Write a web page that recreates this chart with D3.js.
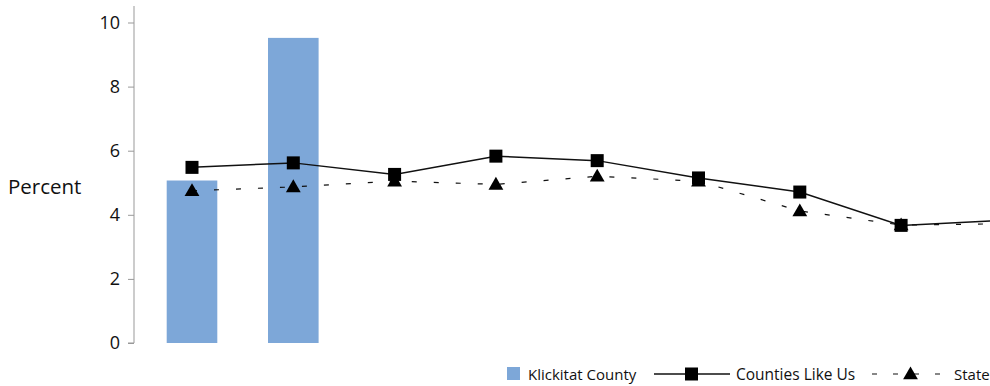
<!DOCTYPE html>
<html><head><meta charset="utf-8">
<script src="https://cdn.jsdelivr.net/npm/d3@7"></script>
<style>body{margin:0;background:#fff}svg{display:block}text{font-family:"Open Sans",sans-serif;fill:#111}</style>
</head><body><svg id="c" width="990" height="386"></svg>
<script>
const categories = ["1","2","3","4","5","6","7","8","9"];
const countyValues = [5.07, 9.52, null, null, null, null, null, null, null];
const peerValues = [5.48, 5.62, 5.26, 5.83, 5.69, 5.15, 4.71, 3.67, 3.83];
const stateValues = [4.75, 4.87, 5.05, 4.95, 5.2, 5.05, 4.12, 3.68, 3.72];
const yTicks = [0, 2, 4, 6, 8, 10];

const svg = d3.select("#c");
const y = d3.scaleLinear().domain([0, 10]).range([343, 22.5]);
const x = d3.scalePoint().domain(categories).range([192, 192 + 8 * 101.3]);
const barW = 50.6;

// axis
const ax = svg.append("g").attr("transform", "translate(134,0)")
  .call(d3.axisLeft(y).tickValues(yTicks).tickSize(6).tickPadding(8).tickFormat(d3.format("d")));
ax.select(".domain").attr("d", "M-6," + y(0) + "H0V6").attr("stroke", "#999").attr("fill", "none");
ax.selectAll(".tick line").attr("stroke", "#999");
ax.selectAll(".tick text").style("font-size", "18px").attr("fill", "#111");

svg.append("text").attr("x", 8).attr("y", 194).style("font-size", "20.5px").text("Percent");

// bars
svg.append("g").selectAll("rect")
  .data(categories.map((c, i) => ({c, v: countyValues[i]})).filter(d => d.v != null))
  .join("rect")
  .attr("x", d => x(d.c) - barW / 2).attr("width", barW)
  .attr("y", d => y(d.v)).attr("height", d => y(0) - y(d.v))
  .attr("fill", "#7da7d8");

const line = d3.line().x((d, i) => x(categories[i])).y(d => y(d));
// state dashed
svg.append("path").datum(stateValues).attr("d", line)
  .attr("fill", "none").attr("stroke", "#111").attr("stroke-width", 1.2).attr("stroke-dasharray", "5,17");
// peers solid
svg.append("path").datum(peerValues).attr("d", line)
  .attr("fill", "none").attr("stroke", "#111").attr("stroke-width", 1.5);

const tri = d3.symbol().type(d3.symbolTriangle).size(95);
svg.append("g").selectAll("path").data(stateValues).join("path")
  .attr("d", tri).attr("transform", (d, i) => `translate(${x(categories[i])},${y(d) + 1})`).attr("fill", "#000");
svg.append("g").selectAll("rect").data(peerValues).join("rect")
  .attr("x", (d, i) => x(categories[i]) - 6.5).attr("y", d => y(d) - 6.5)
  .attr("width", 13).attr("height", 13).attr("fill", "#000");

// legend
const lg = svg.append("g");
lg.append("rect").attr("x", 507).attr("y", 367).attr("width", 13).attr("height", 13).attr("fill", "#7da7d8");
lg.append("text").attr("x", 528).attr("y", 379.5).style("font-size", "15px").text("Klickitat County");
lg.append("line").attr("x1", 654).attr("x2", 730).attr("y1", 374).attr("y2", 374).attr("stroke", "#111").attr("stroke-width", 1.5);
lg.append("rect").attr("x", 685).attr("y", 367.5).attr("width", 13).attr("height", 13).attr("fill", "#000");
lg.append("text").attr("x", 736).attr("y", 379.5).style("font-size", "15.5px").text("Counties Like Us");
lg.append("line").attr("x1", 872).attr("x2", 940).attr("y1", 374).attr("y2", 374).attr("stroke", "#111").attr("stroke-width", 1.2).attr("stroke-dasharray", "5,16");
lg.append("path").attr("d", tri).attr("transform", "translate(910.5,375)").attr("fill", "#000");
lg.append("text").attr("x", 954).attr("y", 379.5).style("font-size", "15px").text("State");
</script></body></html>
